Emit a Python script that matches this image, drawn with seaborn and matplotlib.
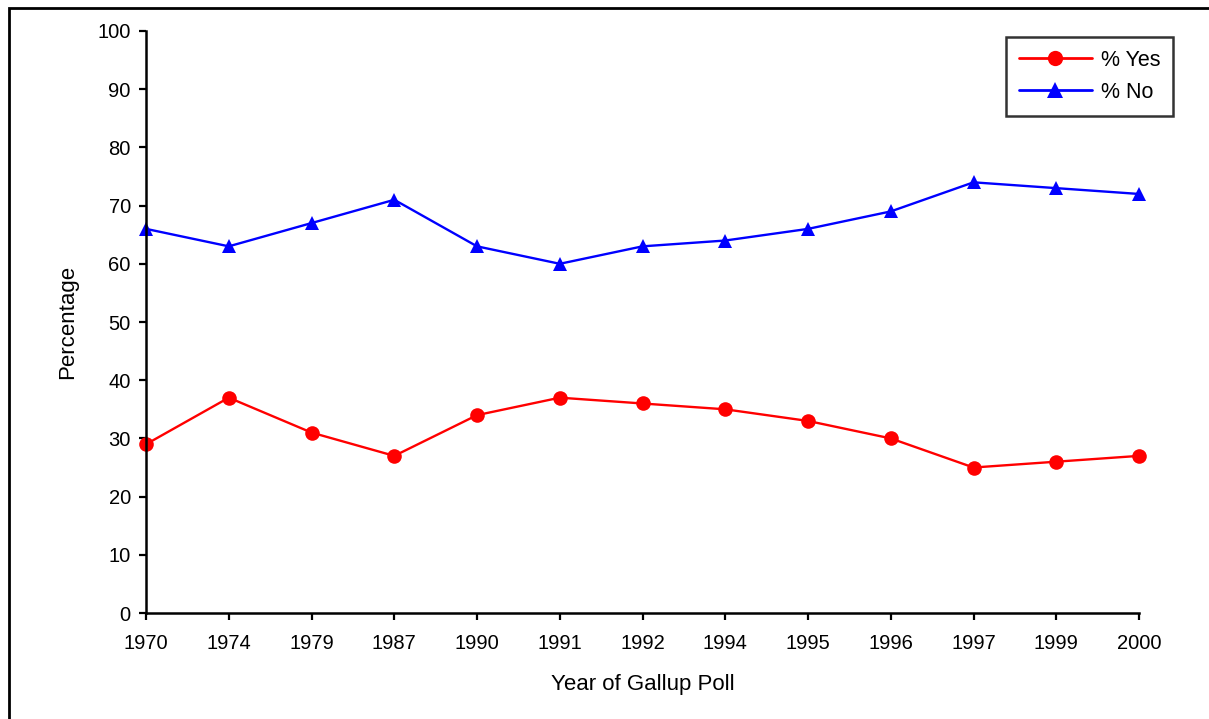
import matplotlib
matplotlib.use("Agg")
import matplotlib.pyplot as plt
import seaborn as sns
import pandas as pd
from matplotlib.patches import Rectangle

# data
years = ['1970', '1974', '1979', '1987', '1990', '1991', '1992',
         '1994', '1995', '1996', '1997', '1999', '2000']
pct_yes = [29, 37, 31, 27, 34, 37, 36, 35, 33, 30, 25, 26, 27]
pct_no = [66, 63, 67, 71, 63, 60, 63, 64, 66, 69, 74, 73, 72]

df = pd.DataFrame({
    'Year': years * 2,
    'Percentage': pct_yes + pct_no,
    'Answer': ['% Yes'] * len(years) + ['% No'] * len(years),
})

sns.set_style('white')
plt.rcParams['font.family'] = ['Liberation Sans', 'DejaVu Sans']
plt.rcParams['text.color'] = 'black'
plt.rcParams['axes.labelcolor'] = 'black'
plt.rcParams['xtick.color'] = 'black'
plt.rcParams['ytick.color'] = 'black'

fig = plt.figure(figsize=(12.09, 7.19), dpi=100)
ax = fig.add_axes([0.1208, 0.1474, 0.8213, 0.8095])

sns.lineplot(
    data=df, x='Year', y='Percentage', hue='Answer', style='Answer',
    palette={'% Yes': '#ff0000', '% No': '#0000ff'},
    markers={'% Yes': 'o', '% No': '^'}, dashes=False,
    markersize=10.5, linewidth=1.7, markeredgewidth=0, sort=False, ax=ax,
)
for ln in ax.lines:
    ln.set_clip_on(False)

ax.set_xlim(0, len(years) - 1)
ax.set_ylim(0, 100)
ax.set_yticks(range(0, 101, 10))
ax.set_xlabel('Year of Gallup Poll', fontsize=16, labelpad=15)
ax.set_ylabel('Percentage', fontsize=16, labelpad=14)
ax.tick_params(axis='both', labelsize=14.5, direction='out', length=5,
               width=1.6, color='black', left=True, bottom=True)
ax.tick_params(axis='x', pad=10)
ax.tick_params(axis='y', pad=6)

for side in ['top', 'right']:
    ax.spines[side].set_visible(False)
for side in ['left', 'bottom']:
    ax.spines[side].set_color('black')
    ax.spines[side].set_linewidth(1.8)
ax.grid(False)

leg = ax.legend(loc='upper right', bbox_to_anchor=(1173 / 1209, 1 - 37 / 719),
                bbox_transform=fig.transFigure, fontsize=15.5, frameon=True,
                fancybox=False, edgecolor='black', handlelength=3.4,
                borderpad=0.6, labelspacing=0.5, handletextpad=0.4,
                borderaxespad=0)
leg.get_frame().set_linewidth(1.8)
for h in leg.legend_handles:
    h.set_linewidth(2)
    h.set_markersize(11)

# outer frame of the original figure
fig.patches.append(Rectangle((9 / 1209, -0.1), 1.2, 1.1 - 8 / 719,
                             transform=fig.transFigure, fill=False,
                             edgecolor='black', linewidth=2))

fig.savefig('out.png', dpi=100)
